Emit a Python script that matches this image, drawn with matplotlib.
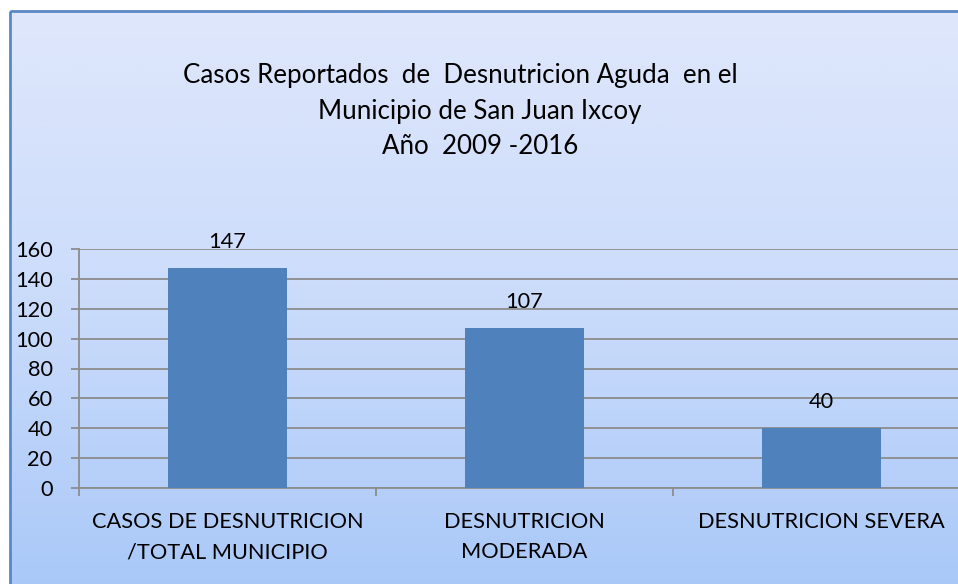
import numpy as np
import matplotlib
matplotlib.use("Agg")
import matplotlib.pyplot as plt
from matplotlib.patches import Rectangle
from matplotlib.colors import LinearSegmentedColormap

categories = ["CASOS DE DESNUTRICION\n/TOTAL MUNICIPIO", "DESNUTRICION\nMODERADA", "DESNUTRICION SEVERA"]
values = [147, 107, 40]
yticks = [0, 20, 40, 60, 80, 100, 120, 140, 160]
title_lines = ["Casos Reportados  de  Desnutricion Aguda  en el",
               "Municipio de San Juan Ixcoy",
               "Año  2009 -2016"]

plt.rcParams['font.family'] = ['Lato', 'DejaVu Sans']
FS = 15.7
TFS = 18.6
W, H = 958, 584
fig = plt.figure(figsize=(W/100, H/100), dpi=100)
fig.patch.set_facecolor('white')

# background with gradient
bg = fig.add_axes([0, 0, 1, 1], zorder=0)
bg.set_xlim(0, W)
bg.set_ylim(H, 0)
bg.axis('off')
cmap = LinearSegmentedColormap.from_list('g', ['#dfe7fb', '#cbdcfb', '#a9c8f8'])
grad = np.linspace(0, 1, 256).reshape(-1, 1)
bg.imshow(grad, cmap=cmap, aspect='auto', extent=[10, W + 5, H + 5, 11], zorder=0)
bg.add_patch(Rectangle((10, 11), W, H, fill=False, edgecolor='#5a88c6', linewidth=2, zorder=2))
bg.set_xlim(0, W)
bg.set_ylim(H, 0)

# title lines
bg.text(460, 76, title_lines[0], ha='center', va='center', fontsize=TFS, color='black')
bg.text(480, 111, title_lines[1], ha='center', va='center', fontsize=TFS, color='black')
bg.text(480, 147, title_lines[2], ha='center', va='center', fontsize=TFS, color='black')

# main axes
left_px, right_px = 79, 970
bottom_px, top_px = 488, 249
ax = fig.add_axes([left_px / W, 1 - bottom_px / H, (right_px - left_px) / W, (bottom_px - top_px) / H], zorder=1)
ax.patch.set_alpha(0)
x = np.arange(len(categories))
ax.bar(x, values, width=0.4, color='#4f81bd', zorder=3)
ax.set_xlim(-0.5, len(categories) - 0.5)
ax.set_ylim(0, 160)
ax.set_yticks(yticks)
ax.set_yticklabels([str(t) for t in yticks], fontsize=FS)
ax.yaxis.grid(True, color='#8c8c8c', linewidth=1.3, zorder=0)
ax.set_axisbelow(True)
for s in ['top', 'right']:
    ax.spines[s].set_visible(False)
for s in ['left', 'bottom']:
    ax.spines[s].set_color('#8c8c8c')
    ax.spines[s].set_linewidth(1.3)
ax.tick_params(axis='y', direction='out', length=6, width=1.3, color='#8c8c8c', pad=13)
# x ticks at category boundaries
ax.set_xticks(np.arange(len(categories) + 1) - 0.5)
ax.set_xticklabels([])
ax.tick_params(axis='x', which='major', direction='out', length=6, width=1.3, color='#8c8c8c')
ax.set_xticks(x, minor=True)
ax.set_xticklabels(categories, minor=True, fontsize=FS, linespacing=1.65)
ax.tick_params(axis='x', which='minor', length=0, pad=17)

for xi, v in zip(x, values):
    ax.annotate(str(v), (xi, v), xytext=(0, 14.4), textcoords='offset points',
                ha='center', va='baseline', fontsize=FS, color='black')

fig.savefig('out.png', dpi=100)
